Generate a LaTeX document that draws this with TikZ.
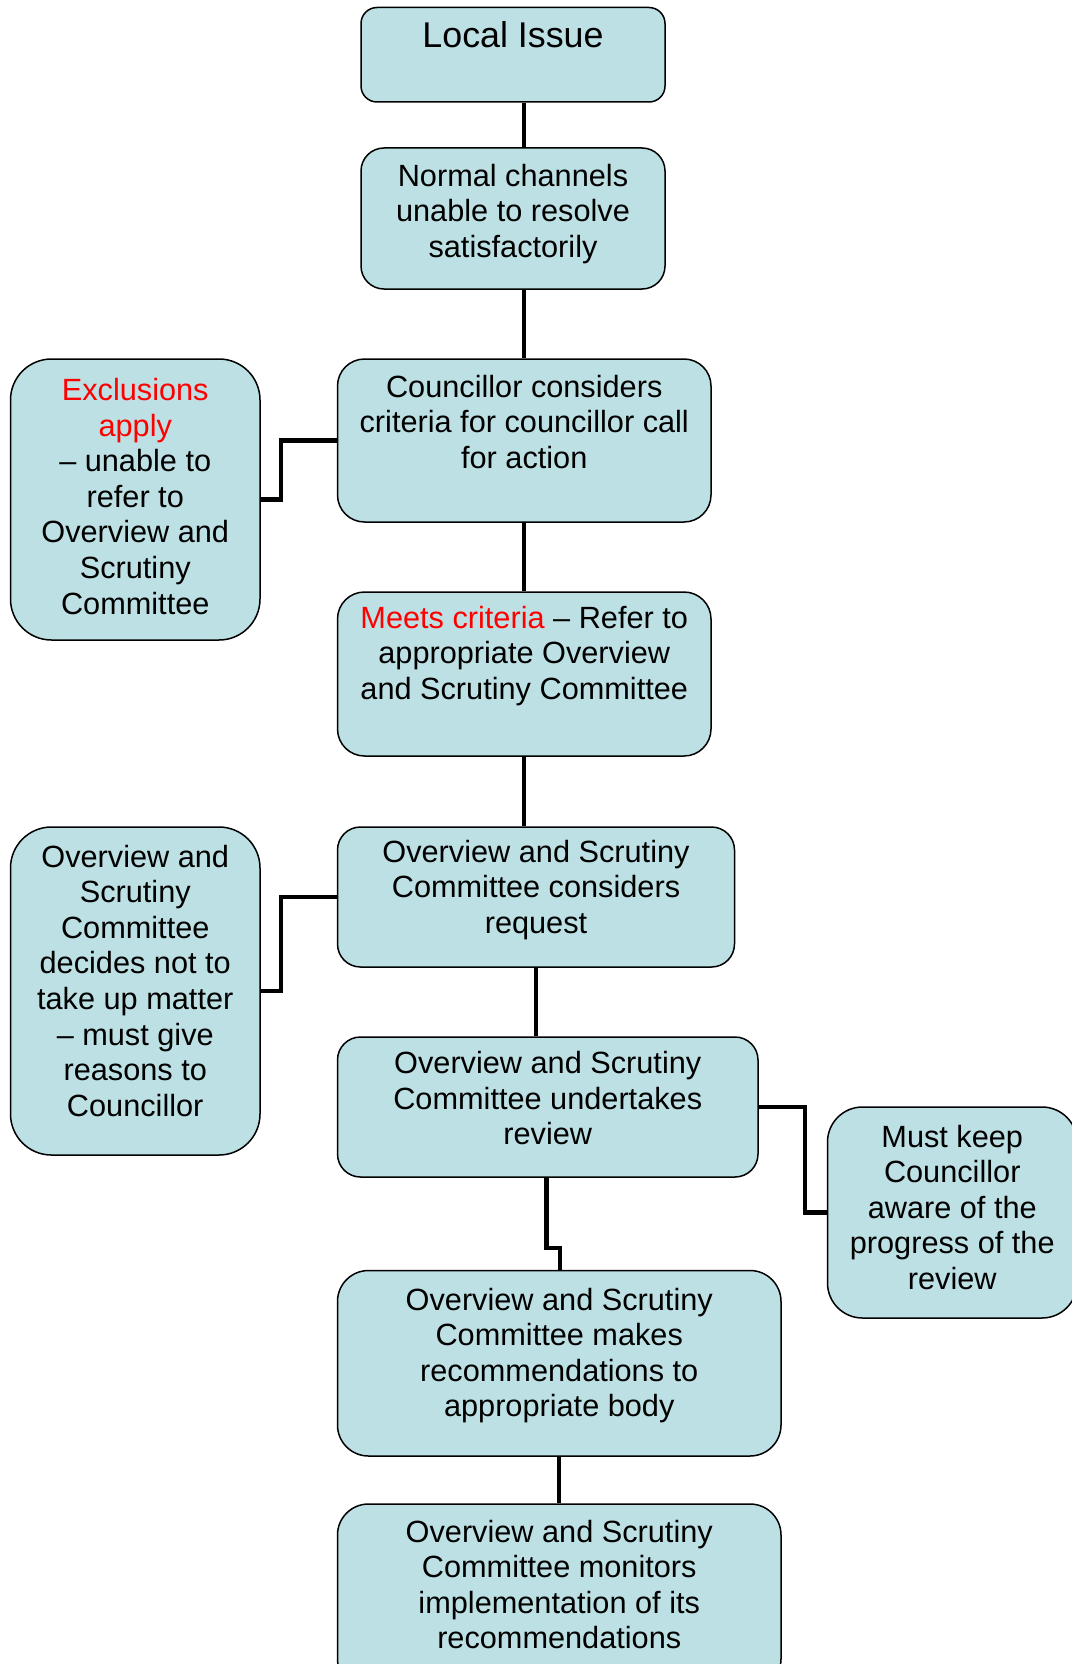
\documentclass[tikz,border=0pt]{standalone}
\usepackage{fontspec}
\setmainfont{Liberation Sans}
\definecolor{boxfill}{RGB}{188,224,227}
\definecolor{hot}{RGB}{255,0,0}
\begin{document}
\begin{tikzpicture}[x=1pt,y=-1pt,
  box/.style={draw=black, line width=1.5pt, fill=boxfill, inner sep=0pt},
  txt/.style={align=center, anchor=base, inner sep=0pt, font=\fontsize{30.7pt}{35.6pt}\selectfont},
  link/.style={line width=4.2pt}]
\useasboundingbox (0,0) rectangle (1071,1664);

% boxes
\node[box, rounded corners=16pt, minimum width=304pt, minimum height=94.5pt] (local) at (513,54.75) {};
\node[box, rounded corners=23pt, minimum width=304pt, minimum height=141pt] (normal) at (513,218.5) {};
\node[box, rounded corners=27pt, minimum width=373.5pt, minimum height=163pt] (council) at (524.25,440.5) {};
\node[box, rounded corners=41pt, minimum width=249.5pt, minimum height=281pt] (excl) at (135.25,499.5) {};
\node[box, rounded corners=27pt, minimum width=373.5pt, minimum height=164pt] (meets) at (524.25,674) {};
\node[box, rounded corners=23pt, minimum width=397pt, minimum height=140pt] (consid) at (536,897) {};
\node[box, rounded corners=41pt, minimum width=249.5pt, minimum height=328pt] (decide) at (135.25,991) {};
\node[box, rounded corners=23pt, minimum width=420.5pt, minimum height=140pt] (under) at (547.75,1107) {};
\node[box, rounded corners=35pt, minimum width=249.5pt, minimum height=211pt] (keep) at (952.25,1212.5) {};
\node[box, rounded corners=31pt, minimum width=443.5pt, minimum height=185.5pt] (makes) at (559.25,1363.25) {};
\node[box, rounded corners=31pt, minimum width=443.5pt, minimum height=186pt] (monit) at (559.25,1597) {};

% texts (anchor base = baseline of the last line)
\node[txt, font=\fontsize{35.8pt}{41pt}\selectfont] (localt) at (513,48) {Local Issue};
\node[txt] (normalt) at (513,257.2) {Normal channels\\unable to resolve\\satisfactorily};
\node[txt] (councilt) at (524.25,468.2) {Councillor considers\\criteria for councillor call\\for action};
\node[txt] (exclt) at (135.25,614) {\textcolor{hot}{Exclusions}\\\textcolor{hot}{apply}\\– unable to\\refer to\\Overview and\\Scrutiny\\Committee};
\node[txt] (meetst) at (524.25,699.2) {\textcolor{hot}{Meets criteria} – Refer to\\appropriate Overview\\and Scrutiny Committee};
\node[txt] (considt) at (536,933.2) {Overview and Scrutiny\\Committee considers\\request};
\node[txt] (decidet) at (135.25,1116.2) {Overview and\\Scrutiny\\Committee\\decides not to\\take up matter\\– must give\\reasons to\\Councillor};
\node[txt] (undert) at (547.75,1144.7) {Overview and Scrutiny\\Committee undertakes\\review};
\node[txt] (keept) at (952.25,1289.4) {Must keep\\Councillor\\aware of the\\progress of the\\review};
\node[txt] (makest) at (559.25,1416.8) {Overview and Scrutiny\\Committee makes\\recommendations to\\appropriate body};
\node[txt] (monitt) at (559.25,1648.8) {Overview and Scrutiny\\Committee monitors\\implementation of its\\recommendations};

% connectors
\draw[link] (local.south -| council.center) -- (normal.north -| council.center);
\draw[link] (normal.south -| council.center) -- (council.north);
\draw[link] (council.south) -- (meets.north);
\draw[link] (meets.south) -- (meets.south |- consid.north);
\draw[link] (consid.south) -- (consid.south |- under.north);
\draw[link] ([xshift=-1.25pt]under.south) -- ++(0,70) -| ([xshift=0.75pt]makes.north);
\draw[link] (makes.south) -- (monit.north);
\draw[link] (council.west) -- ++(-55.5,0) |- (excl.east);
\draw[link] (consid.west) -- ++(-55.5,0) |- (decide.east);
\draw[link] (under.east) -- ++(46.5,0) |- (keep.west);
\end{tikzpicture}
\end{document}
